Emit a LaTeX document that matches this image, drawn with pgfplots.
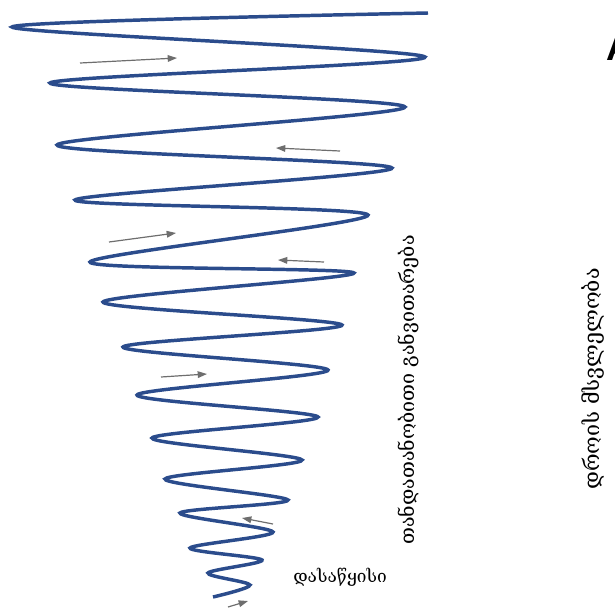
\documentclass[border=0pt]{standalone}
\usepackage{pgfplots}
\pgfplotsset{compat=1.18}
\usepackage{fontspec}
\newfontfamily\geo{DejaVu Serif}
\newfontfamily\arial{Liberation Sans}
\usetikzlibrary{arrows.meta}
\definecolor{spiral}{HTML}{2B4C8C}
\definecolor{arr}{HTML}{6E6E6E}
\begin{document}
\begin{tikzpicture}
\begin{axis}[width=461.25pt,height=456pt,scale only axis,
  xmin=0,xmax=615,ymin=0,ymax=608,y dir=reverse,hide axis,clip=false]
\addplot[spiral,line width=2.6pt,smooth,tension=0.5,no markers] coordinates {
(428,13) (12,27) (425,57) (50,83) (405,107) (57,145) (392,168) (75,200)
(368,215) (90,262) (354,273) (103,302) (342,325) (123,347) (328,370)
(137,395) (318,417) (152,438) (302,460) (165,479) (288,500) (180,513)
(273,532) (190,548) (262,560) (208,573) (250,585) (213,597)
};
\draw[arr,line width=0.9pt,-{Triangle[length=7pt,width=5pt]}] (80,63) -- (177,58);
\draw[arr,line width=0.9pt,-{Triangle[length=7pt,width=5pt]}] (340,151) -- (276,148);
\draw[arr,line width=0.9pt,-{Triangle[length=7pt,width=5pt]}] (109,242) -- (176,233);
\draw[arr,line width=0.9pt,-{Triangle[length=7pt,width=5pt]}] (324,262) -- (278,260);
\draw[arr,line width=0.9pt,-{Triangle[length=7pt,width=5pt]}] (161,377) -- (207,374);
\draw[arr,line width=0.9pt,-{Triangle[length=7pt,width=5pt]}] (273,524) -- (242,518);
\draw[arr,line width=0.9pt,-{Triangle[length=7pt,width=5pt]}] (228,607) -- (248,601);
\node[inner sep=0pt] at (340,577) {\resizebox{70pt}{!}{\geo დასაწყისი}};
\node[inner sep=0pt,rotate=90] at (408,390) {\resizebox{232pt}{!}{\geo თანდათანობითი განვითარება}};
\node[inner sep=0pt,rotate=90] at (593,379) {\resizebox{166pt}{!}{\geo დროის მსვლელობა}};
\node[anchor=base west,inner sep=0pt,font=\arial\bfseries\fontsize{27}{27}\selectfont] at (606,60) {A};
\end{axis}
\pgfresetboundingbox
\path[use as bounding box] (current axis.south west) rectangle (current axis.north east);
\end{tikzpicture}
\end{document}
